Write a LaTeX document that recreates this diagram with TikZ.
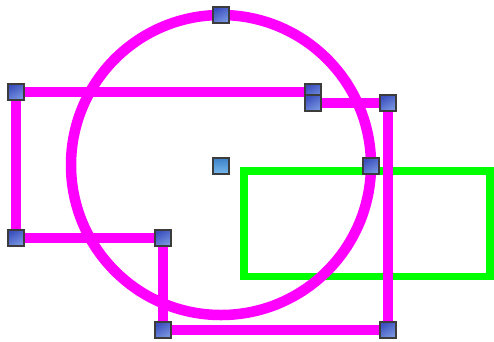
\documentclass[tikz,border=0pt]{standalone}
\definecolor{mag}{RGB}{255,0,255}
\definecolor{grn}{RGB}{0,255,0}
\definecolor{hdA}{RGB}{60,80,190}
\definecolor{hdB}{RGB}{120,150,225}
\definecolor{hcA}{RGB}{60,130,200}
\definecolor{hcB}{RGB}{120,185,235}
\definecolor{hbord}{RGB}{60,60,60}
\begin{document}
\begin{tikzpicture}[x=1pt,y=-1pt,
  handle/.style={rectangle,draw=hbord,line width=1.2pt,minimum size=16pt,inner sep=0pt,
    top color=hdA,bottom color=hdB,shading angle=30},
  chandle/.style={handle,top color=hcA,bottom color=hcB},
  magline/.style={draw=mag,line width=10.5pt,line join=miter},
  grnline/.style={draw=grn,line width=7.5pt}]
\useasboundingbox (0,0) rectangle (494,341);
% green rectangle
\draw[grnline] (244,171) rectangle (490,276.5);
% coordinates of polygon
\coordinate (p1) at (16,92);
\coordinate (p2) at (313,92);
\coordinate (p3) at (313,103);
\coordinate (p4) at (388,103);
\coordinate (p5) at (388,330);
\coordinate (p6) at (163,330);
\coordinate (p7) at (163,238);
\coordinate (p8) at (16,238);
\draw[magline] (p1) -- (p2) -- (p3) -- (p4) -- (p5) -- (p6) -- (p7) -- (p8) -- cycle;
% circle
\coordinate (c) at (221,165);
\draw[magline] (c) circle[radius=150];
% handles
\node[handle] (h1) at (p1) {};
\node[handle] (h2) at (p2) {};
\node[handle] (h3) at (p3) {};
\node[handle] (h4) at (p4) {};
\node[handle] (h5) at (p5) {};
\node[handle] (h6) at (p6) {};
\node[handle] (h7) at (p7) {};
\node[handle] (h8) at (p8) {};
\node[handle] (ht) at (221,15) {};
\node[handle] (hr) at (371,166) {};
\node[chandle] (hc) at (221,166) {};
\end{tikzpicture}
\end{document}
